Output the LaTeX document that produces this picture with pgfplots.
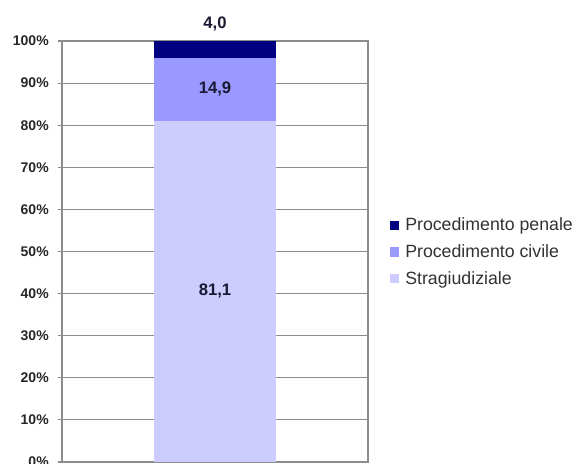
\documentclass[border=0pt]{standalone}
\usepackage{pgfplots}
\pgfplotsset{compat=1.18}
\usepackage{fontspec}
\setmainfont{Liberation Sans}
\definecolor{penale}{RGB}{0,0,128}
\definecolor{civile}{RGB}{153,153,255}
\definecolor{strag}{RGB}{204,204,255}
\definecolor{gridc}{RGB}{140,140,140}
\definecolor{lab}{RGB}{25,25,50}
\definecolor{legtext}{RGB}{50,50,50}
\begin{document}
\begin{tikzpicture}[x=1pt,y=1pt]
\path[use as bounding box] (0,0) rectangle (432,348);
\begin{axis}[
  at={(46.5pt,1.5pt)}, anchor=south west,
  scale only axis, width=229.5pt, height=315.75pt,
  ybar stacked, bar width=91.5pt,
  xmin=-0.5, xmax=0.5, ymin=0, ymax=100,
  xtick=\empty,
  ytick={0,10,...,100},
  ytick pos=left,
  tick align=outside,
  major tick length=3pt,
  ytick style={gridc, line width=0.8pt},
  axis line style={gridc, line width=0.9pt},
  ymajorgrids,
  major grid style={gridc, line width=0.8pt},
  /pgf/number format/assume math mode=true,
  yticklabel={\pgfmathprintnumber{\tick}\%},
  yticklabel style={font=\bfseries\fontsize{10.5}{12}\selectfont, text=black!85, inner sep=0pt, anchor=east, xshift=-6.75pt},
  visualization depends on={rawy \as \rawy},
  nodes near coords={\pgfmathprintnumber[fixed,fixed zerofill,precision=1,use comma]{\rawy}},
  legend style={at={(1.0719,0.4988)}, anchor=west, draw=none, fill=none, inner sep=0pt,
    font=\fontsize{13.3}{15}\selectfont, text=legtext, row sep=8.9pt,
    nodes={inner sep=0pt},
    /tikz/every odd column/.append style={column sep=4.5pt}},
  legend cell align=left,
  legend image code/.code={\fill[#1, draw=none] (0pt,-3.4pt) rectangle (6.75pt,3.4pt);},
  reverse legend,
]
\addplot+[fill=strag, draw=none, every node near coord/.style={font=\bfseries\fontsize{12.5}{14}\selectfont, text=lab, anchor=center}] coordinates {(0,81.1)};
\addlegendentry{Stragiudiziale}
\addplot+[fill=civile, draw=none, every node near coord/.style={font=\bfseries\fontsize{12.5}{14}\selectfont, text=lab, anchor=center}] coordinates {(0,14.9)};
\addlegendentry{Procedimento civile}
\addplot+[fill=penale, draw=none, every node near coord/.style={font=\bfseries\fontsize{12.5}{14}\selectfont, text=lab, anchor=center, yshift=19pt}] coordinates {(0,4.0)};
\addlegendentry{Procedimento penale}
\end{axis}
\end{tikzpicture}
\end{document}
